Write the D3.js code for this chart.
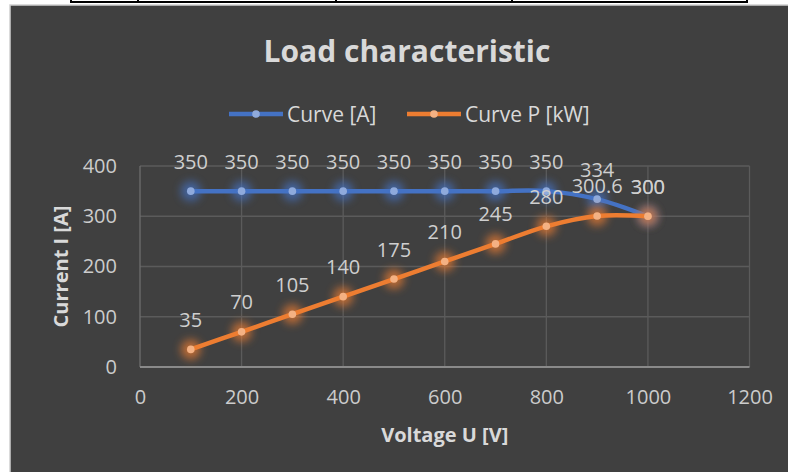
<!DOCTYPE html>
<html>
<head>
<meta charset="utf-8">
<script src="https://cdn.jsdelivr.net/npm/d3@7"></script>
<style>
  html, body { margin: 0; padding: 0; background: #ffffff; }
  svg { display: block; }
</style>
</head>
<body>
<svg id="chart"></svg>
<script>
// data
const voltage = [100, 200, 300, 400, 500, 600, 700, 800, 900, 1000];
const currentA = [350, 350, 350, 350, 350, 350, 350, 350, 334, 300];
const powerKW = [35, 70, 105, 140, 175, 210, 245, 280, 300.6, 300];
const xTicks = [0, 200, 400, 600, 800, 1000, 1200];
const yTicks = [0, 100, 200, 300, 400];
const seriesNames = ["Curve [A]", "Curve P [kW]"];

const width = 788, height = 472;
const fontFamily = "'Open Sans', 'Noto Sans', sans-serif";
const textColor = "#d9d9d9";

let svg = d3.select("#chart")
    .attr("width", width)
    .attr("height", height);

// glow filter for the markers
let defs = svg.append("defs");
let glow = defs.append("filter")
    .attr("id", "glow")
    .attr("x", "-100%").attr("y", "-100%")
    .attr("width", "300%").attr("height", "300%");
glow.append("feGaussianBlur").attr("stdDeviation", 4.5);

// table edge above the chart
let table = svg.append("g");
table.append("rect")
    .attr("x", 70).attr("y", 1).attr("width", 678).attr("height", 2)
    .attr("fill", "#000");
[70, 137, 335, 511, 746].forEach(x => {
    table.append("rect")
        .attr("x", x).attr("y", 0).attr("width", 2).attr("height", 3)
        .attr("fill", "#000");
});

// chart background + border
svg.append("rect")
    .attr("x", 10).attr("y", 5)
    .attr("width", width).attr("height", height)
    .attr("fill", "#404040")
    .attr("stroke", "#cfcfcf")
    .attr("stroke-width", 1.5);

let x = d3.scaleLinear().domain([0, 1200]).range([140, 749.5]);
let y = d3.scaleLinear().domain([0, 400]).range([367, 166]);

// gridlines
let grid = svg.append("g");
grid.selectAll(".hgrid")
    .data(yTicks.filter(d => d > 0))
    .enter().append("line")
    .attr("x1", x(0)).attr("x2", x(1200))
    .attr("y1", d => y(d)).attr("y2", d => y(d))
    .attr("stroke", "#5b5b5b").attr("stroke-width", 1.3);
grid.selectAll(".vgrid")
    .data(xTicks)
    .enter().append("line")
    .attr("x1", d => x(d)).attr("x2", d => x(d))
    .attr("y1", y(0)).attr("y2", y(400))
    .attr("stroke", d => d === 0 ? "#6e6e6e" : "#5b5b5b")
    .attr("stroke-width", 1.3);
grid.append("line")
    .attr("x1", x(0)).attr("x2", x(1200))
    .attr("y1", y(0)).attr("y2", y(0))
    .attr("stroke", "#8a8a8a").attr("stroke-width", 2);

// axes (labels only)
let xAxis = d3.axisBottom(x).tickValues(xTicks).tickFormat(d3.format("d"))
    .tickSize(0).tickPadding(23);
let gx = svg.append("g")
    .attr("transform", `translate(0, ${y(0)})`)
    .call(xAxis);
let yAxis = d3.axisLeft(y).tickValues(yTicks).tickFormat(d3.format("d"))
    .tickSize(0).tickPadding(23);
let gy = svg.append("g")
    .attr("transform", `translate(${x(0)}, 0)`)
    .call(yAxis);
[gx, gy].forEach(g => {
    g.select(".domain").remove();
    g.selectAll("text")
        .attr("font-family", fontFamily)
        .attr("font-size", 20)
        .attr("fill", "#cccccc");
});

// axis titles
svg.append("text")
    .text("Voltage U [V]")
    .attr("x", (x(0) + x(1200)) / 2).attr("y", 442)
    .attr("text-anchor", "middle")
    .attr("font-family", fontFamily).attr("font-weight", "bold")
    .attr("font-size", 20).attr("fill", textColor);
svg.append("text")
    .text("Current I [A]")
    .attr("transform", `translate(68, ${(y(0) + y(400)) / 2}) rotate(-90)`)
    .attr("text-anchor", "middle")
    .attr("font-family", fontFamily).attr("font-weight", "bold")
    .attr("font-size", 20).attr("fill", textColor);

// title
svg.append("text")
    .text("Load characteristic")
    .attr("x", 407).attr("y", 62)
    .attr("text-anchor", "middle")
    .attr("font-family", fontFamily).attr("font-weight", "bold")
    .attr("font-size", 30).attr("fill", textColor);

// series
let series = [
    { name: seriesNames[0], values: currentA, color: "#4472c4", marker: "#8faadc" },
    { name: seriesNames[1], values: powerKW, color: "#ed7d31", marker: "#f4b183" }
];

let line = d3.line()
    .x(d => x(d[0]))
    .y(d => y(d[1]))
    .curve(d3.curveCatmullRom.alpha(0));

series.forEach(s => {
    let pts = voltage.map((v, i) => [v, s.values[i]]);
    let g = svg.append("g");
    g.selectAll(".glow")
        .data(pts)
        .enter().append("circle")
        .attr("cx", d => x(d[0])).attr("cy", d => y(d[1]))
        .attr("r", 10)
        .attr("fill", s.color)
        .attr("opacity", 0.7)
        .attr("filter", "url(#glow)");
    g.append("path")
        .datum(pts)
        .attr("d", line)
        .attr("fill", "none")
        .attr("stroke", s.color)
        .attr("stroke-width", 4.5)
        .attr("stroke-linecap", "round");
    s.g = g;
    s.pts = pts;
});

series.forEach(s => {
    s.g.selectAll(".marker")
        .data(s.pts)
        .enter().append("circle")
        .attr("cx", d => x(d[0])).attr("cy", d => y(d[1]))
        .attr("r", 3.8)
        .attr("fill", s.marker);
});

// data labels
series.forEach(s => {
    svg.append("g").selectAll("text")
        .data(s.pts)
        .enter().append("text")
        .text(d => d[1])
        .attr("x", d => x(d[0]))
        .attr("y", d => y(d[1]) - 22.5)
        .attr("text-anchor", "middle")
        .attr("font-family", fontFamily)
        .attr("font-size", 20)
        .attr("fill", "#cfcfcf");
});

// legend
let legendX = [229, 407];
let legend = svg.append("g");
series.forEach((s, i) => {
    let lx = legendX[i];
    legend.append("line")
        .attr("x1", lx).attr("x2", lx + 54)
        .attr("y1", 114).attr("y2", 114)
        .attr("stroke", s.color).attr("stroke-width", 4.5);
    legend.append("circle")
        .attr("cx", lx + 27).attr("cy", 114).attr("r", 3.8)
        .attr("fill", s.marker);
    legend.append("text")
        .text(s.name)
        .attr("x", lx + 58).attr("y", 122)
        .attr("font-family", fontFamily)
        .attr("font-size", 21)
        .attr("fill", textColor);
});
</script>
</body>
</html>
